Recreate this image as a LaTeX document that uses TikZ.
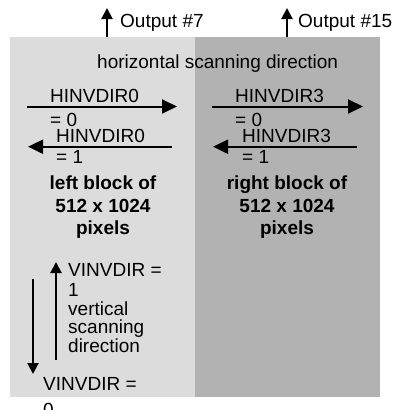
\documentclass[tikz,border=0pt]{standalone}
\usepackage{fontspec}
\setmainfont{Liberation Sans}
\usetikzlibrary{arrows.meta}
\definecolor{lgray}{HTML}{DCDCDC}
\definecolor{dgray}{HTML}{B2B2B2}
\begin{document}
\begin{tikzpicture}[x=1pt,y=-1pt,
 txt/.style={font=\fontsize{19}{22}\selectfont, inner sep=0pt, anchor=base west},
 btxt/.style={font=\fontsize{19}{22}\selectfont\bfseries, inner sep=0pt, anchor=base},
 blk/.style={inner sep=0pt, minimum width=185pt, minimum height=360pt, anchor=north west},
 bigarr/.style={line width=2pt, -{Triangle[length=15pt,width=14pt]}},
 smallarr/.style={line width=2pt, -{Triangle[length=11pt,width=11pt]}}]
\useasboundingbox (0,0) rectangle (394,410);
\node[blk, fill=lgray] (L) at (10,37) {};
\node[blk, fill=dgray] (R) at (195,37) {};
% outputs
\coordinate (o7s) at (107,37); \coordinate (o7e) at (107,8);
\draw[smallarr] (o7s) -- (o7e);
\node[txt] (o7) at (120,27) {Output \#7};
\coordinate (o15s) at (287,37); \coordinate (o15e) at (287,8);
\draw[smallarr] (o15s) -- (o15e);
\node[txt] (o15) at (298,27) {Output \#15};
\node[txt] (hsd) at (97,68) {horizontal scanning direction};
% left horizontal arrows
\coordinate (la1s) at (27,106.5); \coordinate (la1e) at (177,106.5);
\draw[bigarr] (la1s) -- (la1e);
\node[txt] (lh0) at (50,102.7) {HINVDIR0};
\node[txt] (lh0v) at (50,126) {= 0};
\coordinate (la2s) at (172,146.7); \coordinate (la2e) at (28,146.7);
\draw[bigarr] (la2s) -- (la2e);
\node[txt] (lh1) at (56,142.7) {HINVDIR0};
\node[txt] (lh1v) at (56,163) {= 1};
% right horizontal arrows
\coordinate (ra1s) at (212,106.5); \coordinate (ra1e) at (363,106.5);
\draw[bigarr] (ra1s) -- (ra1e);
\node[txt] (rh0) at (235,102.7) {HINVDIR3};
\node[txt] (rh0v) at (235,126) {= 0};
\coordinate (ra2s) at (357,146.7); \coordinate (ra2e) at (213,146.7);
\draw[bigarr] (ra2s) -- (ra2e);
\node[txt] (rh1) at (242,142.7) {HINVDIR3};
\node[txt] (rh1v) at (242,163) {= 1};
% block labels
\node[btxt] (lb1) at (103,189) {left block of};
\node[btxt] (lb2) at (103,212) {512 x 1024};
\node[btxt] (lb3) at (103,234) {pixels};
\node[btxt] (rb1) at (287,189) {right block of};
\node[btxt] (rb2) at (287,212) {512 x 1024};
\node[btxt] (rb3) at (287,234) {pixels};
% vertical arrows
\coordinate (va0s) at (33,279); \coordinate (va0e) at (33,374);
\draw[smallarr] (va0s) -- (va0e);
\coordinate (va1s) at (56,360); \coordinate (va1e) at (56,262);
\draw[smallarr] (va1s) -- (va1e);
\node[txt] (v1a) at (68,276) {VINVDIR =};
\node[txt] (v1b) at (68,296) {1};
\node[txt] (vs1) at (68,315) {vertical};
\node[txt] (vs2) at (68,333) {scanning};
\node[txt] (vs3) at (68,352) {direction};
\node[txt] (v0a) at (43,390) {VINVDIR =};
\node[txt] (v0b) at (43,416) {0};
\end{tikzpicture}
\end{document}
